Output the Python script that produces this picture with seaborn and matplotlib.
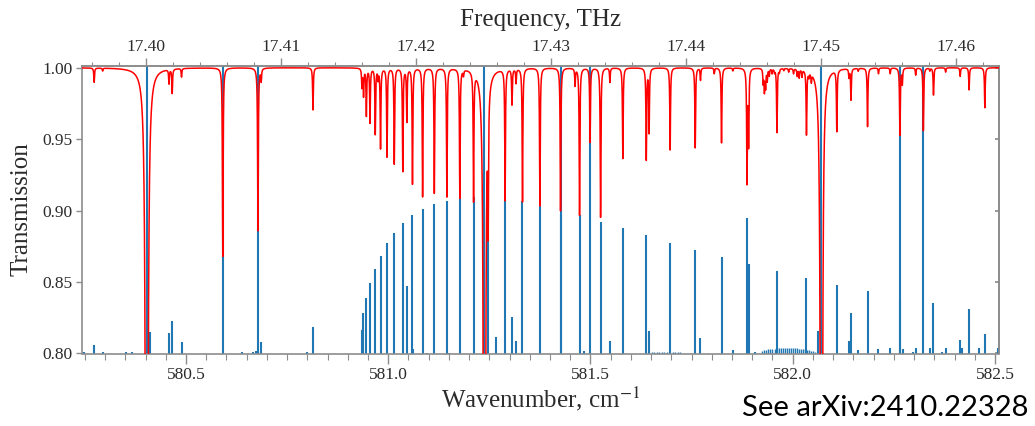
import numpy as np
import matplotlib
matplotlib.use("Agg")
import matplotlib.pyplot as plt
import seaborn as sns
from matplotlib.ticker import MultipleLocator, FixedLocator, FormatStrFormatter

# cm^-1 -> THz
C_THZ = 0.0299792458

# top axis tick labels (THz)
freq_ticks = [17.40, 17.41, 17.42, 17.43, 17.44, 17.45, 17.46]

# saturated lines: centre (cm^-1) and minimum transmission of the red curve
strong_pos = [580.403, 580.591, 580.678, 581.238, 581.426, 581.499, 582.071, 582.265, 582.323]
strong_min = [0.018, 0.868, 0.886, 0.061, 0.900, 0.948, 0.061, 0.953, 0.956]

# other absorption lines of the red spectrum
line_pos = [580.273, 580.294, 580.458, 580.466, 580.489, 580.686, 580.814, 580.935,
            580.939, 580.946, 580.955, 580.968, 580.975, 580.981, 580.997, 581.015,
            581.036, 581.046, 581.060, 581.085, 581.114, 581.145, 581.177, 581.186,
            581.211, 581.247, 581.289, 581.306, 581.316, 581.332, 581.375, 581.462,
            581.473, 581.525, 581.548, 581.580, 581.638, 581.645, 581.697, 581.759,
            581.772, 581.806, 581.824, 581.852, 581.887, 581.891, 581.927, 581.930,
            581.933, 581.937, 581.942, 581.949, 581.955, 581.961, 581.967, 581.978,
            581.990, 582.002, 582.011, 582.016, 582.023, 582.034, 582.040, 582.046,
            582.109, 582.139, 582.144, 582.162, 582.185, 582.212, 582.241, 582.271,
            582.304, 582.339, 582.348, 582.378, 582.414, 582.436, 582.475]
line_min = [0.990, 0.998, 0.990, 0.983, 0.994, 0.9916, 0.9705, 0.987,
            0.981, 0.967, 0.962, 0.954, 0.993, 0.944, 0.938, 0.933,
            0.928, 0.963, 0.919, 0.910, 0.9125, 0.910, 0.9095, 0.996,
            0.9095, 0.9095, 0.908, 0.975, 0.990, 0.9065, 0.9035, 0.988,
            0.897, 0.8955, 0.990, 0.9365, 0.936, 0.955, 0.9425, 0.944,
            0.9915, 0.996, 0.9475, 0.998, 0.921, 0.948, 0.990, 0.9845,
            0.987, 0.9915, 0.995, 0.9965, 0.9975, 0.955, 0.9975, 0.9985,
            0.9975, 0.9965, 0.995, 0.994, 0.995, 0.955, 0.9965, 0.994,
            0.957, 0.994, 0.978, 0.998, 0.959, 0.996, 0.996, 0.989,
            0.995, 0.998, 0.981, 0.997, 0.994, 0.9845, 0.972]

# blue stick spectrum (top of each stick)
stick_pos = [580.403, 580.591, 580.678, 581.238, 581.426, 581.499, 582.071, 582.265, 582.323,
             580.248, 580.273, 580.294, 580.353, 580.366, 580.410, 580.458, 580.466,
             580.489, 580.639, 580.666, 580.674, 580.686, 580.799, 580.814, 580.934,
             580.938, 580.946, 580.955, 580.968, 580.981, 580.997, 581.015, 581.036,
             581.046, 581.060, 581.062, 581.085, 581.097, 581.114, 581.145, 581.151,
             581.177, 581.211, 581.236, 581.247, 581.266, 581.289, 581.306, 581.316,
             581.332, 581.375, 581.426, 581.473, 581.484, 581.525, 581.548, 581.580,
             581.638, 581.645, 581.697, 581.759, 581.772, 581.824, 581.852, 581.887,
             581.891, 581.906, 581.961, 582.034, 582.063, 582.109, 582.139, 582.144,
             582.162, 582.185, 582.212, 582.241, 582.266, 582.273, 582.298, 582.304,
             582.339, 582.348, 582.368, 582.378, 582.414, 582.418, 582.436, 582.461,
             582.475, 582.507]
stick_top = [1.05, 1.05, 1.05, 1.05, 1.05, 1.05, 1.05, 1.05, 1.05,
             0.801, 0.806, 0.801, 0.801, 0.801, 0.815, 0.814, 0.823,
             0.808, 0.801, 0.801, 0.802, 0.808, 0.801, 0.8185, 0.8165,
             0.828, 0.839, 0.849, 0.859, 0.868, 0.877, 0.8845, 0.891,
             0.8475, 0.897, 0.803, 0.901, 0.8005, 0.9045, 0.907, 0.8005,
             0.909, 0.9095, 0.815, 0.9095, 0.8115, 0.908, 0.8255, 0.8085,
             0.9065, 0.9035, 0.897, 0.897, 0.802, 0.892, 0.8085, 0.8875,
             0.883, 0.816, 0.8775, 0.8725, 0.811, 0.8675, 0.8025, 0.8945,
             0.8625, 0.801, 0.858, 0.8525, 0.8155, 0.8477, 0.809, 0.8283,
             0.8025, 0.8437, 0.803, 0.804, 0.838, 0.803, 0.801, 0.804,
             0.804, 0.835, 0.801, 0.804, 0.8095, 0.804, 0.8313, 0.804,
             0.8138, 0.804]

# two dense bands of weak sticks
band1_pos = [581.652, 581.658, 581.664, 581.670, 581.676, 581.682, 581.688,
             581.704, 581.710, 581.716, 581.722]
band1_top = [0.8008, 0.8010, 0.8011, 0.8012, 0.8012, 0.8011, 0.8010,
             0.8009, 0.8008, 0.8008, 0.8007]
band2_pos = [581.925, 581.930, 581.935, 581.940, 581.945, 581.950, 581.955, 581.960, 581.965,
             581.970, 581.975, 581.980, 581.985, 581.990, 581.995, 582.000, 582.005, 582.010,
             582.015, 582.020, 582.025, 582.030, 582.035, 582.040, 582.045, 582.050, 582.055]
band2_top = [0.8018, 0.8022, 0.8025, 0.8028, 0.8030, 0.8032, 0.8034, 0.8035, 0.8036,
             0.8037, 0.8037, 0.8038, 0.8038, 0.8038, 0.8037, 0.8037, 0.8036, 0.8035,
             0.8034, 0.8032, 0.8030, 0.8028, 0.8026, 0.8023, 0.8020, 0.8016, 0.8012]

X_MIN, X_MAX = 580.243, 582.510
GAMMA = 0.001  # Lorentzian half width, cm^-1


def transmission(x):
    """Red spectrum built from the line list (Lorentzian absorption)."""
    centres = np.array(strong_pos + line_pos)
    depth = -np.log(np.array(strong_min + line_min))
    prof = GAMMA**2 / ((x[None, :] - centres[:, None])**2 + GAMMA**2)
    return np.exp(-(depth[:, None] * prof).sum(axis=0))


sns.set_theme(style="ticks")
plt.rcParams["font.family"] = ["Liberation Serif", "DejaVu Serif"]
plt.rcParams["mathtext.fontset"] = "stix"

fig = plt.figure(figsize=(10.35, 4.26), dpi=100)
ax = fig.add_axes([82 / 1035, 72.5 / 426, 917 / 1035, 287.8 / 426])

blue = "#1f77b4"
ax.vlines(stick_pos, 0.79, stick_top, color=blue, lw=1.5, zorder=2)
ax.vlines(band1_pos + band2_pos, 0.79, band1_top + band2_top, color=blue, lw=1.0, zorder=2)

xs = np.sort(np.concatenate([np.linspace(X_MIN, X_MAX, 50000), strong_pos, line_pos]))
sns.lineplot(x=xs, y=transmission(xs), color="red", lw=1.1, ax=ax,
             estimator=None, sort=False, zorder=3)

ax.set_xlim(X_MIN, X_MAX)
ax.set_ylim(0.80, 1.0014)

spine_c = "#8c8c8c"
text_c = "#2b2b2b"
for s in ax.spines.values():
    s.set_color(spine_c)
    s.set_linewidth(1.2)

ax.xaxis.set_major_locator(MultipleLocator(0.5))
ax.xaxis.set_minor_locator(MultipleLocator(0.05))
ax.xaxis.set_major_formatter(FormatStrFormatter("%.1f"))
ax.yaxis.set_major_locator(MultipleLocator(0.05))
ax.yaxis.set_major_formatter(FormatStrFormatter("%.2f"))
ax.tick_params(axis="x", which="major", length=7, width=1, color=spine_c,
               labelsize=12.5, labelcolor=text_c, pad=3)
ax.tick_params(axis="x", which="minor", length=4, width=0.8, color=spine_c)
ax.tick_params(axis="y", which="major", length=4, width=1, color=spine_c,
               labelsize=12.5, labelcolor=text_c, pad=3)

ax.set_xlabel("Wavenumber, cm$^{-1}$", fontsize=18, color=text_c, labelpad=1)
ax.set_ylabel("Transmission", fontsize=18, color=text_c, labelpad=7)

# right side: short inward ticks, no labels
ry = ax.secondary_yaxis("right")
ry.yaxis.set_major_locator(MultipleLocator(0.05))
ry.tick_params(direction="in", length=3, color=spine_c, labelright=False)
ry.spines["right"].set_color(spine_c)

# top axis in THz
top = ax.secondary_xaxis("top", functions=(lambda w: w * C_THZ, lambda f: f / C_THZ))
top.xaxis.set_major_locator(FixedLocator(freq_ticks))
top.xaxis.set_minor_locator(MultipleLocator(0.002))
top.xaxis.set_major_formatter(FormatStrFormatter("%.2f"))
top.tick_params(which="major", length=6, width=1, color=spine_c,
                labelsize=12.5, labelcolor=text_c, pad=2)
top.tick_params(which="minor", length=3, width=0.8, color=spine_c)
top.spines["top"].set_color(spine_c)
top.spines["top"].set_linewidth(1.2)
top.set_xlabel("Frequency, THz", fontsize=18, color=text_c, labelpad=9)

fig.text(1029 / 1035, 1 - 408 / 426, "See arXiv:2410.22328", ha="right", va="center",
         fontsize=21, family=["Lato", "DejaVu Sans"], color="black")

fig.savefig("out.png", dpi=100)
plt.close(fig)
